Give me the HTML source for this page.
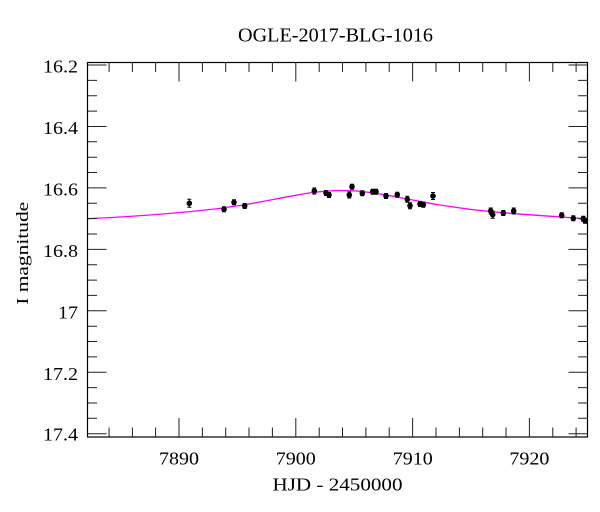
<!DOCTYPE html>
<html>
<head>
<meta charset="utf-8">
<style>
  html, body { margin:0; padding:0; background:#fff; }
  svg { display:block; }
  text { font-family: "Liberation Serif", serif; fill:#000; }
</style>
</head>
<body>
<svg width="600" height="512" viewBox="0 0 600 512" xmlns="http://www.w3.org/2000/svg">
  <rect x="0" y="0" width="600" height="512" fill="#fff"/>

  <text x="335.5" y="41.7" font-size="20" text-anchor="middle" textLength="195" lengthAdjust="spacingAndGlyphs">OGLE-2017-BLG-1016</text>

  <polyline fill="none" stroke="#ff00ff" stroke-width="1.3" stroke-linejoin="round"
    points="87.5,218.6 110,217.6 130,216.4 150,215.0 170,213.4 190,211.6 210,209.5 220,208.4 230,206.9 240,205.5 250,203.8 260,202.0 270,200.1 280,198.2 290,196.3 300,194.5 310,192.9 320,191.7 330,190.85 335,190.6 341.5,190.5 348,190.6 355,190.9 360,191.3 370,192.5 380,194.0 390,195.7 400,197.6 410,199.5 420,201.4 430,203.3 440,205.0 450,206.5 470,209.3 490,211.5 510,213.3 530,214.8 550,216.2 570,217.6 587.5,218.9"/>

  <g stroke="#000" stroke-width="1" fill="#000">
    <path d="M189.3,199.3V207.3M187.3,199.3H191.3M187.3,207.3H191.3"/>
    <circle cx="189.3" cy="203.3" r="2.3"/>
    <path d="M224,206.8V211.8M222,206.8H226M222,211.8H226"/>
    <circle cx="224" cy="209.3" r="2.3"/>
    <path d="M234,199.8V204.8M232,199.8H236M232,204.8H236"/>
    <circle cx="234" cy="202.3" r="2.3"/>
    <path d="M244.7,203.5V208.5M242.7,203.5H246.7M242.7,208.5H246.7"/>
    <circle cx="244.7" cy="206" r="2.3"/>
    <path d="M314.3,188V194M312.3,188H316.3M312.3,194H316.3"/>
    <circle cx="314.3" cy="191" r="2.3"/>
    <path d="M326,190.5V195.5M324,190.5H328M324,195.5H328"/>
    <circle cx="326" cy="193" r="2.3"/>
    <path d="M329,192.5V197.5M327,192.5H331M327,197.5H331"/>
    <circle cx="329" cy="195" r="2.3"/>
    <path d="M349.3,192V198M347.3,192H351.3M347.3,198H351.3"/>
    <circle cx="349.3" cy="195" r="2.3"/>
    <path d="M352,184.2V189.2M350,184.2H354M350,189.2H354"/>
    <circle cx="352" cy="186.7" r="2.3"/>
    <path d="M362.3,190.8V195.8M360.3,190.8H364.3M360.3,195.8H364.3"/>
    <circle cx="362.3" cy="193.3" r="2.3"/>
    <path d="M372.7,189.2V194.2M370.7,189.2H374.7M370.7,194.2H374.7"/>
    <circle cx="372.7" cy="191.7" r="2.3"/>
    <path d="M376,189.2V194.2M374,189.2H378M374,194.2H378"/>
    <circle cx="376" cy="191.7" r="2.3"/>
    <path d="M386,193.5V198.5M384,193.5H388M384,198.5H388"/>
    <circle cx="386" cy="196" r="2.3"/>
    <path d="M397.3,192.2V197.2M395.3,192.2H399.3M395.3,197.2H399.3"/>
    <circle cx="397.3" cy="194.7" r="2.3"/>
    <path d="M407.3,196.3V202.3M405.3,196.3H409.3M405.3,202.3H409.3"/>
    <circle cx="407.3" cy="199.3" r="2.3"/>
    <path d="M410,202.7V208.7M408,202.7H412M408,208.7H412"/>
    <circle cx="410" cy="205.7" r="2.3"/>
    <path d="M420,201.5V206.5M418,201.5H422M418,206.5H422"/>
    <circle cx="420" cy="204" r="2.3"/>
    <path d="M423.3,202.2V207.2M421.3,202.2H425.3M421.3,207.2H425.3"/>
    <circle cx="423.3" cy="204.7" r="2.3"/>
    <path d="M433,192.5V199.5M431,192.5H435M431,199.5H435"/>
    <circle cx="433" cy="196" r="2.3"/>
    <path d="M490.7,208V214M488.7,208H492.7M488.7,214H492.7"/>
    <circle cx="490.7" cy="211" r="2.3"/>
    <path d="M492.7,211.2V218.2M490.7,211.2H494.7M490.7,218.2H494.7"/>
    <circle cx="492.7" cy="214.7" r="2.3"/>
    <path d="M503.3,210.5V215.5M501.3,210.5H505.3M501.3,215.5H505.3"/>
    <circle cx="503.3" cy="213" r="2.3"/>
    <path d="M513.7,208V214M511.7,208H515.7M511.7,214H515.7"/>
    <circle cx="513.7" cy="211" r="2.3"/>
    <path d="M561.7,212.8V217.8M559.7,212.8H563.7M559.7,217.8H563.7"/>
    <circle cx="561.7" cy="215.3" r="2.3"/>
    <path d="M573.3,215.8V220.8M571.3,215.8H575.3M571.3,220.8H575.3"/>
    <circle cx="573.3" cy="218.3" r="2.3"/>
    <path d="M583.3,216.2V221.2M581.3,216.2H585.3M581.3,221.2H585.3"/>
    <circle cx="583.3" cy="218.7" r="2.3"/>
    <path d="M585,218.2V223.2M583,218.2H587M583,223.2H587"/>
    <circle cx="585" cy="220.7" r="2.3"/>
  </g>

  <rect x="87.5" y="62.5" width="500" height="374.5" fill="none" stroke="#000" stroke-width="1.2"/>

  <g stroke="#222" stroke-width="1">
    <path d="M179,437V418 M295.8,437V418 M412.6,437V418 M529.4,437V418"/>
    <path d="M179,62.5V81.5 M295.8,62.5V81.5 M412.6,62.5V81.5 M529.4,62.5V81.5"/>
    <path d="M109.1,437V427.5 M132.4,437V427.5 M155.6,437V427.5 M202.4,437V427.5 M225.7,437V427.5 M249,437V427.5 M272.4,437V427.5 M319.2,437V427.5 M342.5,437V427.5 M365.9,437V427.5 M389.2,437V427.5 M436,437V427.5 M459.4,437V427.5 M482.7,437V427.5 M506,437V427.5 M552.8,437V427.5 M576.1,437V427.5"/>
    <path d="M109.1,62.5V72 M132.4,62.5V72 M155.6,62.5V72 M202.4,62.5V72 M225.7,62.5V72 M249,62.5V72 M272.4,62.5V72 M319.2,62.5V72 M342.5,62.5V72 M365.9,62.5V72 M389.2,62.5V72 M436,62.5V72 M459.4,62.5V72 M482.7,62.5V72 M506,62.5V72 M552.8,62.5V72 M576.1,62.5V72"/>
  </g>

  <g stroke="#222" stroke-width="1">
    <path d="M87.5,65H106.5 M87.5,126.5H106.5 M87.5,187.9H106.5 M87.5,249.4H106.5 M87.5,310.8H106.5 M87.5,372.3H106.5 M87.5,433.7H106.5"/>
    <path d="M587.5,65H568.5 M587.5,126.5H568.5 M587.5,187.9H568.5 M587.5,249.4H568.5 M587.5,310.8H568.5 M587.5,372.3H568.5 M587.5,433.7H568.5"/>
    <path d="M87.5,80.4H97 M87.5,95.7H97 M87.5,111.1H97 M87.5,141.8H97 M87.5,157.2H97 M87.5,172.5H97 M87.5,203.3H97 M87.5,218.6H97 M87.5,234H97 M87.5,264.7H97 M87.5,280.1H97 M87.5,295.4H97 M87.5,326.2H97 M87.5,341.5H97 M87.5,356.9H97 M87.5,387.6H97 M87.5,403H97 M87.5,418.3H97"/>
    <path d="M587.5,80.4H578 M587.5,95.7H578 M587.5,111.1H578 M587.5,141.8H578 M587.5,157.2H578 M587.5,172.5H578 M587.5,203.3H578 M587.5,218.6H578 M587.5,234H578 M587.5,264.7H578 M587.5,280.1H578 M587.5,295.4H578 M587.5,326.2H578 M587.5,341.5H578 M587.5,356.9H578 M587.5,387.6H578 M587.5,403H578 M587.5,418.3H578"/>
  </g>

  <g font-size="18" text-anchor="end">
    <text x="78" y="72.7" textLength="35" lengthAdjust="spacingAndGlyphs">16.2</text>
    <text x="78" y="134.2" textLength="35" lengthAdjust="spacingAndGlyphs">16.4</text>
    <text x="78" y="195.6" textLength="35" lengthAdjust="spacingAndGlyphs">16.6</text>
    <text x="78" y="257.2" textLength="35" lengthAdjust="spacingAndGlyphs">16.8</text>
    <text x="78" y="318.5" textLength="20" lengthAdjust="spacingAndGlyphs">17</text>
    <text x="78" y="380" textLength="35" lengthAdjust="spacingAndGlyphs">17.2</text>
    <text x="78" y="440.5" textLength="35" lengthAdjust="spacingAndGlyphs">17.4</text>
  </g>

  <g font-size="18" text-anchor="middle">
    <text x="179" y="464.3" textLength="40" lengthAdjust="spacingAndGlyphs">7890</text>
    <text x="295.8" y="464.3" textLength="40" lengthAdjust="spacingAndGlyphs">7900</text>
    <text x="412.8" y="464.3" textLength="40" lengthAdjust="spacingAndGlyphs">7910</text>
    <text x="529.4" y="464.3" textLength="40" lengthAdjust="spacingAndGlyphs">7920</text>
  </g>

  <text x="337.5" y="490.7" font-size="18" text-anchor="middle" textLength="130" lengthAdjust="spacingAndGlyphs">HJD - 2450000</text>
  <text transform="translate(28,253.3) rotate(-90)" x="0" y="0" font-size="17" text-anchor="middle" textLength="103" lengthAdjust="spacingAndGlyphs">I magnitude</text>
</svg>
</body>
</html>
